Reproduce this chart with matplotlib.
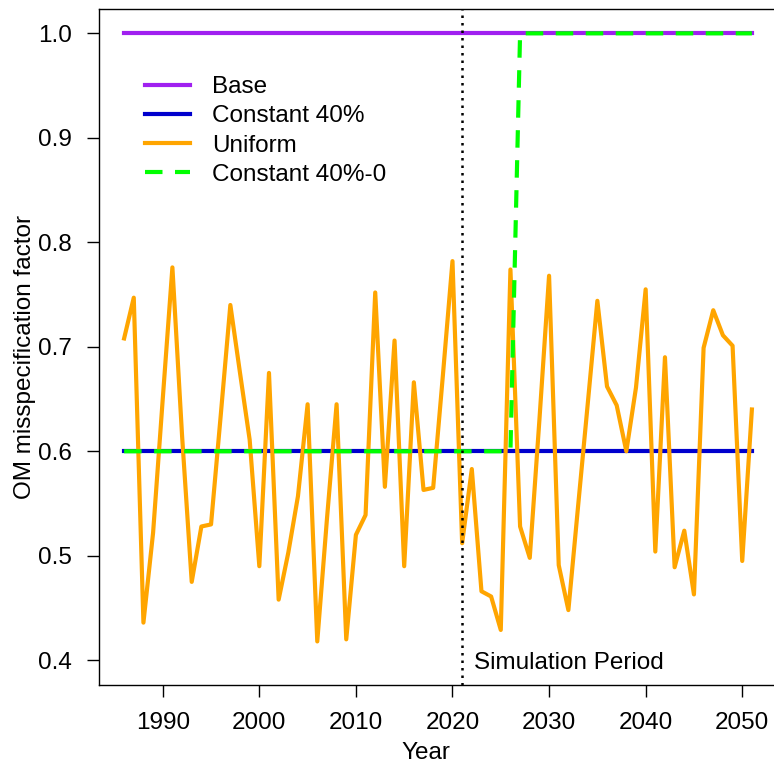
import matplotlib
matplotlib.use("Agg")
import matplotlib.pyplot as plt
import numpy as np

plt.rcParams['font.family'] = ['Liberation Sans', 'DejaVu Sans']

years = list(range(1986, 2052))
uniform = [0.708, 0.747, 0.436, 0.522, 0.650, 0.776, 0.615, 0.475, 0.528, 0.530,
           0.634, 0.740, 0.675, 0.611, 0.490, 0.675, 0.458, 0.503, 0.557, 0.645,
           0.418, 0.535, 0.645, 0.420, 0.520, 0.539, 0.752, 0.566, 0.706, 0.490,
           0.666, 0.563, 0.565, 0.672, 0.782, 0.512, 0.583, 0.466, 0.461, 0.429,
           0.774, 0.528, 0.498, 0.630, 0.768, 0.491, 0.448, 0.547, 0.645, 0.744,
           0.662, 0.644, 0.600, 0.661, 0.755, 0.504, 0.690, 0.489, 0.524, 0.463,
           0.699, 0.735, 0.711, 0.701, 0.495, 0.640]
base_value = 1.0
constant_value = 0.6
switch_year = 2027
sim_start = 2021
labels = ["Base", "Constant 40%", "Uniform", "Constant 40%-0"]

base = [base_value] * len(years)
constant = [constant_value] * len(years)
constant0 = [constant_value if y < switch_year else base_value for y in years]

W, H = 774, 766
fig = plt.figure(figsize=(W / 100, H / 100), dpi=100)
ax = fig.add_axes([99 / W, 1 - 685 / H, 678 / W, 676 / H])

fs = 17.5
lw = 3.0
ax.plot(years, base, color="#A020F0", lw=lw, label=labels[0], zorder=2)
ax.plot(years, constant, color="#0000CD", lw=lw, label=labels[1], zorder=3)
ax.plot(years, uniform, color="#FFA500", lw=lw, label=labels[2], zorder=4)
ax.plot(years, constant0, color="#00FF00", lw=lw, dashes=(4.2, 3.0),
        label=labels[3], zorder=5)
ax.axvline(sim_start, color="black", lw=1.8, dashes=(1.0, 2.0), zorder=6)
ax.text(sim_start + 1.25, 0.397, "Simulation Period", fontsize=fs,
        ha="left", va="center")

ax.set_xlim(1983.4, 2053.6)
ax.set_ylim(0.3763, 1.0233)
ax.set_xticks([1990, 2000, 2010, 2020, 2030, 2040, 2050])
ax.set_yticks([0.4, 0.5, 0.6, 0.7, 0.8, 0.9, 1.0])
ax.set_yticklabels(["0.4", "0.5", "0.6", "0.7", "0.8", "0.9", "1.0"])
ax.tick_params(direction="out", length=8.5, width=1, labelsize=fs)
ax.tick_params(axis="x", pad=11)
ax.tick_params(axis="y", pad=11)
ax.set_xlabel("Year", fontsize=fs)
ax.set_ylabel("OM misspecification factor", fontsize=fs)
ax.xaxis.set_label_coords((426 - 99) / 678, -(753 - 685) / 676)
ax.yaxis.set_label_coords(-(99 - 25) / 678, 0.5 - (357 - 347) / 676)
ax.xaxis.label.set_va("center")
ax.yaxis.label.set_va("center")
for s in ax.spines.values():
    s.set_linewidth(1)
    s.set_color("black")
ax.spines["right"].set_visible(False)

leg = ax.legend(loc="upper left", bbox_to_anchor=((145 - 99) / 678, 1 - (76 - 9) / 676),
                frameon=False, fontsize=fs, handlelength=1.85, handletextpad=0.9,
                labelspacing=0.3, borderpad=0, borderaxespad=0)

fig.savefig("out.png", dpi=100)
